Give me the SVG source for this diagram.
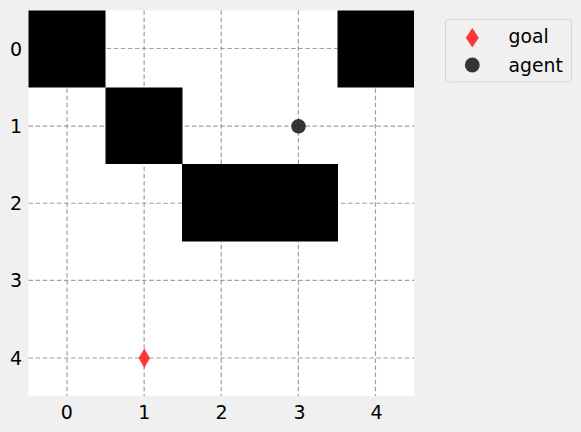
<svg xmlns="http://www.w3.org/2000/svg" width="581" height="432" viewBox="0 0 581 432">
<style>
.tick{font-family:"DejaVu Sans",sans-serif;font-size:19px;fill:#000}
.leg{font-family:"DejaVu Sans",sans-serif;font-size:18.8px;fill:#000}
.grid line{stroke:#a0a0a0;stroke-width:1.2;stroke-dasharray:4.5 2.6}
.wall{fill:#000}
.agent{fill:#1f1f1f;fill-opacity:0.9}
.goal{fill:#ff1a1a;fill-opacity:0.85}
</style>
<rect width="581" height="432" fill="#f0f0f0"/>
<rect x="28.5" y="10.5" width="385.5" height="385.5" fill="#ffffff"/>
<g id="grid" class="grid">
<line x1="67.05" y1="10.5" x2="67.05" y2="396"/>
<line x1="144.15" y1="10.5" x2="144.15" y2="396"/>
<line x1="221.25" y1="10.5" x2="221.25" y2="396"/>
<line x1="298.35" y1="10.5" x2="298.35" y2="396"/>
<line x1="375.45" y1="10.5" x2="375.45" y2="396"/>
<line x1="28.5" y1="48.5" x2="414" y2="48.5"/>
<line x1="28.5" y1="126.15" x2="414" y2="126.15"/>
<line x1="28.5" y1="203.25" x2="414" y2="203.25"/>
<line x1="28.5" y1="280.35" x2="414" y2="280.35"/>
<line x1="28.5" y1="358" x2="414" y2="358"/>
</g>
<g id="walls">
<rect class="wall" x="28.5" y="10.5" width="77" height="77"/>
<rect class="wall" x="337.5" y="10.5" width="76.5" height="77"/>
<rect class="wall" x="105.5" y="87.5" width="77" height="76.5"/>
<rect class="wall" x="182" y="164" width="156" height="77.5"/>
</g>
<g id="agent"><circle class="agent" cx="298.5" cy="126.3" r="7.3"/></g>
<g id="goal"><polygon class="goal" points="144.3,348.5 150,358 144.3,368 138.6,358"/></g>
<g id="xticks" class="tick" text-anchor="middle">
<text x="66.7" y="418.8">0</text>
<text x="144.3" y="418.8">1</text>
<text x="221.5" y="418.8">2</text>
<text x="299.5" y="418.8">3</text>
<text x="376.5" y="418.8">4</text>
</g>
<g id="yticks" class="tick" text-anchor="end">
<text x="22" y="55.6">0</text>
<text x="22" y="133">1</text>
<text x="22" y="210.2">2</text>
<text x="22" y="287.3">3</text>
<text x="22" y="364.9">4</text>
</g>
<g id="legend">
<rect x="445.5" y="19.5" width="126" height="62.5" rx="3" fill="#f0f0f0" stroke="#d6d6d6" stroke-width="1"/>
<polygon class="goal" points="472.3,28 478.8,37.7 472.3,47.4 465.8,37.7"/>
<text class="leg" x="508.5" y="43.3">goal</text>
<circle class="agent" cx="472.3" cy="65" r="7.4"/>
<text class="leg" x="508.5" y="71.7">agent</text>
</g>
</svg>
